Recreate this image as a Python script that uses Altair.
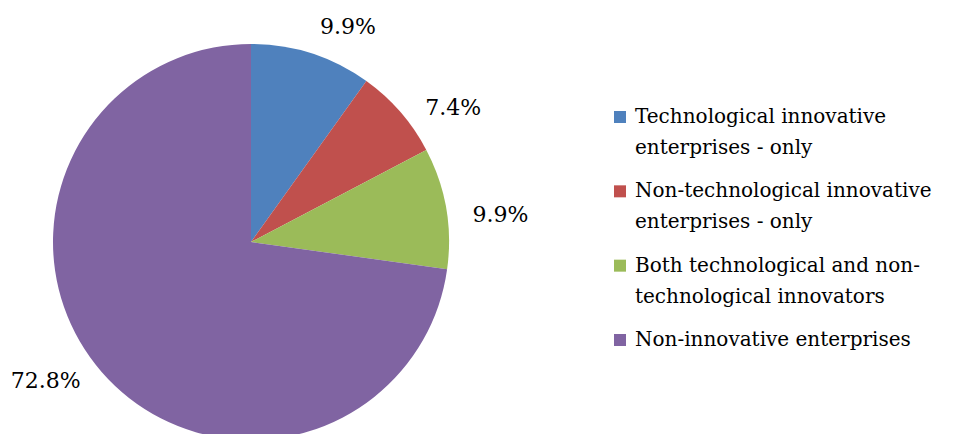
import altair as alt
import pandas as pd

categories = [
    "Technological innovative enterprises - only",
    "Non-technological innovative enterprises - only",
    "Both technological and non-technological innovators",
    "Non-innovative enterprises",
]
legend_text = [
    "Technological innovative|enterprises - only",
    "Non-technological innovative|enterprises - only",
    "Both technological and non-|technological innovators",
    "Non-innovative enterprises",
]
values = [9.9, 7.4, 9.9, 72.8]
pct_labels = ["9.9%", "7.4%", "9.9%", "72.8%"]
colors = ["#4F81BD", "#C0504D", "#9BBB59", "#8064A2"]
slice_order = [0, 1, 2, 3]

df = pd.DataFrame({"category": categories, "value": values, "label": pct_labels, "order": slice_order})
legend_df = pd.DataFrame({"category": categories, "legend": legend_text})

FONT = "DejaVu Serif"
FS = 22
LEG_FS = 20
CX, CY, R = 243, 234, 198

color = alt.Color("category:N", scale=alt.Scale(domain=categories, range=colors), legend=None)

pie = alt.Chart(df).mark_arc(outerRadius=R).encode(
    theta=alt.Theta("value:Q", stack=True),
    order=alt.Order("order:Q"),
    color=color,
    x=alt.value(CX),
    y=alt.value(CY),
)

lab_base = (
    alt.Chart(df)
    .transform_window(cum="sum(value)", sort=[alt.SortField("order")], frame=[None, 0])
    .transform_calculate(mid="datum.cum - datum.value / 2")
)
offsets = [(25, 9), (25, 20), (18, 13), (-28, -15)]
label_layers = []
for cat, (dx, dy) in zip(categories, offsets):
    label_layers.append(
        lab_base.transform_filter(alt.datum.category == cat)
        .mark_text(dx=dx, dy=dy, fontSize=FS, font=FONT, color="black", align="center", baseline="middle")
        .encode(
            theta=alt.Theta("mid:Q", stack=None),
            radius=alt.value(235),
            text="label:N",
            x=alt.value(CX),
            y=alt.value(CY),
        )
    )

leg_y = alt.Y(
    "category:N",
    sort=categories,
    scale=alt.Scale(type="point", range=[109, 332], padding=0),
    axis=None,
)
leg_sq = alt.Chart(legend_df).mark_square(size=144, opacity=1).encode(
    x=alt.value(612), y=leg_y, color=color
)
leg_tx = (
    alt.Chart(legend_df)
    .transform_calculate(lines="split(datum.legend, '|')")
    .mark_text(align="left", baseline="top", dy=-10, fontSize=LEG_FS, font=FONT, lineHeight=31, color="black")
    .encode(x=alt.value(627), y=leg_y, text="lines:N")
)

chart = (
    alt.layer(pie, *label_layers, leg_sq, leg_tx)
    .properties(width=937, height=426, autosize="none", padding=0)
    .configure_view(stroke=None)
)

chart.save("out.html", embed_options={"renderer": "svg", "actions": False})
